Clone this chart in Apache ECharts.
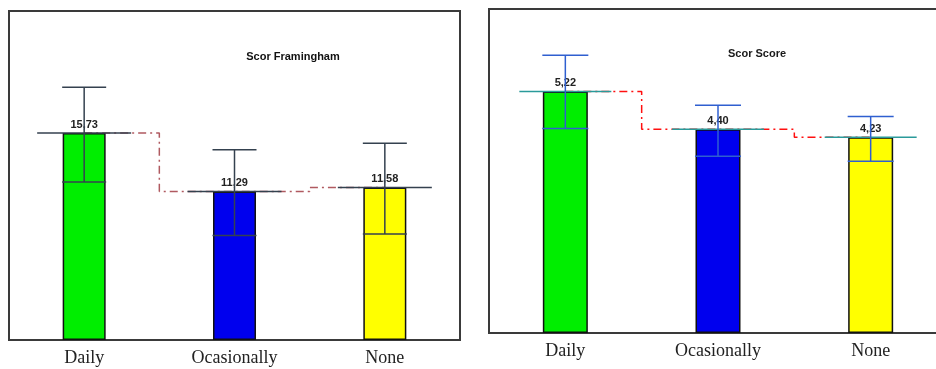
<!DOCTYPE html>
<html>
<head>
<meta charset="utf-8">
<script src="https://cdn.jsdelivr.net/npm/echarts@6/dist/echarts.min.js"></script>
<style>html,body{margin:0;padding:0;background:#fff}#c{width:936px;height:369px}</style>
</head>
<body>
<div id="c"></div>
<script>
// ---- data ----
const categories = ['Daily', 'Ocasionally', 'None'];
const framTitle = 'Scor Framingham';
const framMeans = [15.73, 11.29, 11.58];
const framUpper = [19.2, 14.45, 14.95];
const framLower = [12.0, 7.95, 8.05];
const scoreTitle = 'Scor Score';
const scoreMeans = [5.22, 4.40, 4.23];
const scoreUpper = [6.0, 4.92, 4.68];
const scoreLower = [4.42, 3.82, 3.71];

// ---- styles ----
const barColors = ['#00ee00', '#0000ee', '#ffff00'];

const chart = echarts.init(document.getElementById('c'), null, {renderer: 'canvas'});

function fmt(v){ return v.toFixed(2).replace('.', ','); }

function errSeries(gi, means, lo, hi, errColor, meanColor, capW, halfMean){
  return {
    type: 'custom', xAxisIndex: gi, yAxisIndex: gi, z: 5, silent: true,
    data: means.map((m, i) => [i, m, lo[i], hi[i]]),
    renderItem: function(params, api){
      const c = api.coord([api.value(0), api.value(1)]);
      const l = api.coord([api.value(0), api.value(2)]);
      const h = api.coord([api.value(0), api.value(3)]);
      const x = c[0];
      const st = {stroke: errColor, lineWidth: 1.5};
      return {type: 'group', children: [
        {type: 'line', shape: {x1: x - halfMean, y1: c[1], x2: x + halfMean, y2: c[1]}, style: {stroke: meanColor, lineWidth: 1.5}},
        {type: 'line', shape: {x1: x, y1: h[1], x2: x, y2: l[1]}, style: st},
        {type: 'line', shape: {x1: x - capW/2, y1: h[1], x2: x + capW/2, y2: h[1]}, style: st},
        {type: 'line', shape: {x1: x - capW/2, y1: l[1], x2: x + capW/2, y2: l[1]}, style: st}
      ]};
    }
  };
}

function barSeries(gi, means, bw){
  return {
    type: 'bar', xAxisIndex: gi, yAxisIndex: gi, barWidth: bw, z: 3,
    data: means.map((v, i) => ({value: v, itemStyle: {color: barColors[i], borderColor: '#111', borderWidth: 1.5}})),
    label: {show: true, position: 'top', distance: 3, formatter: p => fmt(p.value),
            fontFamily: 'Liberation Sans, Arial', fontWeight: 'bold', fontSize: 11, color: '#222'}
  };
}

function stepSeries(gi, means, color){
  return {
    type: 'line', xAxisIndex: gi, yAxisIndex: gi, step: 'middle', symbol: 'none', z: 2, silent: true,
    data: means,
    lineStyle: {color: color, width: 1.5, type: [8, 4, 2, 4]}
  };
}

const xLabel = {fontFamily: 'Liberation Serif, DejaVu Serif, serif', fontSize: 18, color: '#222', margin: 9};

chart.setOption({
  animation: false,
  backgroundColor: '#fff',
  title: [
    {text: framTitle, left: 288, top: 46, textAlign: 'center',
     textStyle: {fontFamily: 'Liberation Sans, Arial', fontWeight: 'bold', fontSize: 11, color: '#111'}},
    {text: scoreTitle, left: 752, top: 43, textAlign: 'center',
     textStyle: {fontFamily: 'Liberation Sans, Arial', fontWeight: 'bold', fontSize: 11, color: '#1a1a1a'}}
  ],
  grid: [
    {left: 9, width: 451, top: 11, height: 329, show: true, borderColor: '#3a3a3a', borderWidth: 2, backgroundColor: '#fff', outerBoundsMode: 'none', containLabel: false},
    {left: 489, width: 458, top: 9, height: 324, show: true, borderColor: '#3a3a3a', borderWidth: 2, backgroundColor: '#fff', outerBoundsMode: 'none', containLabel: false}
  ],
  xAxis: [
    {type: 'category', gridIndex: 0, data: categories, axisLine: {show: false}, axisTick: {show: false}, axisLabel: xLabel},
    {type: 'category', gridIndex: 1, data: categories, axisLine: {show: false}, axisTick: {show: false}, axisLabel: xLabel}
  ],
  yAxis: [
    {type: 'value', gridIndex: 0, min: 0, max: 25, show: false, splitLine: {show: false}},
    {type: 'value', gridIndex: 1, min: 0, max: 7, show: false, splitLine: {show: false}}
  ],
  series: [
    stepSeries(0, framMeans, '#b05a60'),
    barSeries(0, framMeans, 43),
    errSeries(0, framMeans, framLower, framUpper, '#34414f', '#34414f', 44, 47),
    stepSeries(1, scoreMeans, '#ff1010'),
    barSeries(1, scoreMeans, 45),
    errSeries(1, scoreMeans, scoreLower, scoreUpper, '#2f5fd0', '#2a9a9a', 46, 46)
  ]
});
</script>
</body>
</html>
